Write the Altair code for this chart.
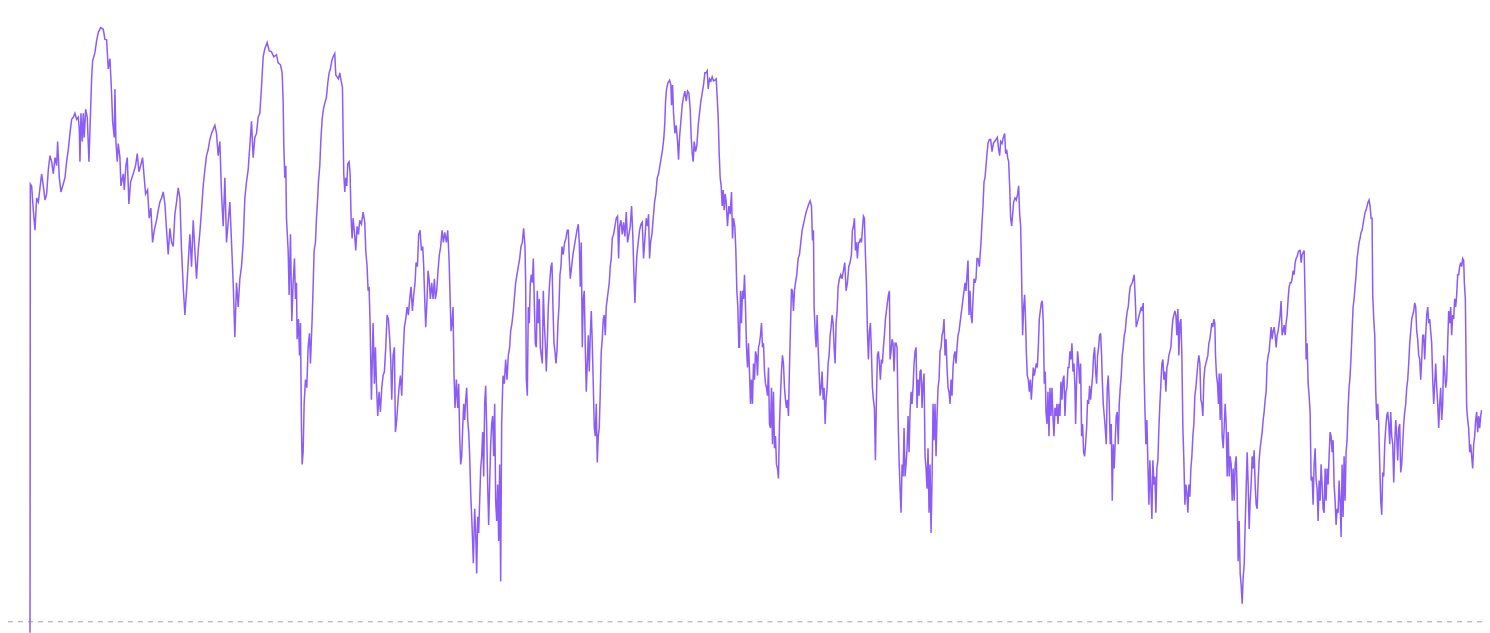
import altair as alt
import pandas as pd

# ---- series (t = tick index, v = value; 0 = dashed reference) ----
seg1_t = [0, 1, 5, 10, 15, 20, 25, 30, 35, 40, 45, 50, 55, 60, 65, 70, 75, 80, 83, 88, 93, 100, 105, 110, 115, 120, 125, 130, 135, 140, 145, 148, 150, 153, 157, 160, 163, 167, 172, 177, 182, 185, 188, 195, 200, 205, 212, 220, 225, 230, 235, 240, 245, 248, 253, 255, 258, 262, 265, 270, 273, 280, 283, 288, 292, 297, 302, 310, 317, 322, 327, 332, 338, 343, 347, 353, 358, 363, 368, 373, 380, 385, 390, 395, 400, 405, 410, 415, 420, 425, 430, 435, 440, 445, 450, 455, 460, 465, 470, 475, 480, 485, 490, 495, 500, 505, 510, 515, 520, 525, 530, 535, 540, 545, 550, 555, 560, 565, 570, 575, 580, 585, 590, 595, 600, 605, 610, 615, 620, 625, 630, 635, 640, 645, 650, 655, 660, 665, 670, 675, 680, 685]
seg1_v = [-120, 1085, 1080, 1020, 970, 1050, 1040, 1075, 1110, 1080, 1045, 1060, 1120, 1155, 1140, 1110, 1150, 1130, 1190, 1100, 1065, 1085, 1100, 1140, 1170, 1210, 1245, 1250, 1260, 1245, 1250, 1220, 1140, 1260, 1190, 1260, 1200, 1270, 1250, 1140, 1270, 1345, 1390, 1410, 1440, 1460, 1472, 1468, 1443, 1442, 1370, 1395, 1310, 1240, 1200, 1320, 1190, 1140, 1185, 1150, 1080, 1110, 1070, 1130, 1150, 1035, 1090, 1110, 1130, 1160, 1115, 1130, 1150, 1100, 1060, 1070, 1000, 1025, 940, 970, 995, 1020, 1040, 1050, 1065, 1035, 970, 910, 975, 940, 930, 1010, 1040, 1075, 1050, 920, 830, 760, 820, 890, 960, 880, 995, 920, 850, 920, 965, 1020, 1080, 1120, 1155, 1170, 1195, 1210, 1220, 1230, 1210, 1155, 1190, 1060, 980, 1100, 940, 990, 1040, 940, 840, 705, 840, 780, 850, 880, 940, 1050, 1090, 1120, 1180, 1240, 1150, 1200, 1210, 1250]

seg2_t = [690, 695, 700, 705, 712, 718, 725, 732, 740, 745, 752, 757, 760, 762, 765, 768, 770, 775, 778, 782, 786, 790, 794, 797, 800, 802, 806, 809, 812, 815, 817, 820, 823, 827, 831, 835, 839, 842, 847, 850, 853, 857, 860, 863, 866, 870, 873, 877, 881, 885, 890, 894, 898, 902, 906, 910, 915, 918, 922, 926, 930, 934, 938, 940, 942, 945, 948, 951, 954, 958, 961, 964, 967, 970, 974, 978, 982, 986, 990, 995, 1000, 1005, 1008, 1012, 1015, 1018, 1021, 1025, 1030, 1034, 1037, 1040, 1044, 1048, 1052, 1056, 1060, 1064, 1068, 1072, 1076, 1080, 1083, 1086, 1090, 1094, 1097, 1101, 1105, 1108, 1112, 1116, 1120, 1124, 1128, 1132, 1136, 1140, 1144, 1148, 1152, 1156, 1159, 1163, 1167, 1171, 1175, 1179, 1182, 1185, 1188, 1192, 1195, 1198, 1202, 1206, 1210, 1214, 1217, 1221, 1225, 1229, 1233, 1237, 1241, 1245, 1250, 1254, 1258, 1261, 1264, 1267, 1270, 1273, 1276, 1280, 1284, 1287, 1290, 1293, 1296, 1299, 1302, 1305, 1308, 1311, 1314, 1317, 1320, 1323, 1327, 1331, 1335, 1338, 1341, 1344, 1347, 1350, 1353, 1356, 1359, 1362, 1365, 1368, 1371, 1374, 1377, 1380, 1383, 1386, 1389, 1392, 1395, 1398, 1401, 1404, 1407]
seg2_v = [1260, 1325, 1400, 1420, 1435, 1415, 1412, 1400, 1405, 1385, 1380, 1360, 1290, 1180, 1100, 1130, 1000, 920, 810, 960, 745, 840, 900, 800, 840, 700, 750, 660, 740, 480, 390, 420, 540, 600, 580, 680, 715, 640, 750, 830, 920, 940, 1000, 1040, 1090, 1130, 1190, 1245, 1270, 1285, 1300, 1335, 1360, 1370, 1390, 1400, 1408, 1355, 1350, 1345, 1360, 1340, 1325, 1210, 1110, 1065, 1100, 1080, 1135, 1140, 1110, 1000, 950, 1000, 965, 920, 980, 960, 995, 985, 1015, 990, 920, 880, 820, 830, 740, 550, 740, 590, 680, 590, 510, 570, 520, 580, 610, 620, 680, 760, 750, 700, 650, 550, 660, 680, 470, 500, 550, 580, 610, 560, 660, 730, 750, 780, 760, 800, 830, 770, 810, 840, 890, 880, 960, 970, 920, 930, 880, 800, 730, 800, 870, 850, 800, 840, 800, 850, 800, 820, 870, 910, 930, 970, 940, 965, 940, 970, 900, 810, 720, 740, 780, 610, 530, 600, 530, 590, 460, 390, 410, 480, 540, 500, 550, 580, 500, 470, 410, 320, 240, 145, 280, 220, 120, 260, 220, 300, 380, 410, 470, 360, 540, 585, 480, 340, 240, 340, 440, 490, 510, 410, 540, 300, 250, 340, 200]

seg3_t = [1410, 1413, 1416, 1420, 1424, 1428, 1432, 1436, 1440, 1443, 1447, 1451, 1455, 1458, 1462, 1466, 1470, 1474, 1478, 1482, 1486, 1488, 1490, 1493, 1496, 1499, 1502, 1505, 1508, 1511, 1514, 1517, 1520, 1523, 1526, 1529, 1532, 1535, 1538, 1541, 1544, 1547, 1550, 1553, 1556, 1560, 1564, 1567, 1570, 1573, 1576, 1579, 1582, 1585, 1588, 1591, 1594, 1597, 1601, 1605, 1609, 1613, 1616, 1619, 1622, 1626, 1630, 1634, 1638, 1642, 1646, 1649, 1652, 1655, 1658, 1661, 1664, 1667, 1670, 1673, 1676, 1679, 1682, 1685, 1688, 1691, 1694, 1697, 1700, 1703, 1706, 1709, 1712, 1715, 1718, 1721, 1724, 1727, 1730, 1733, 1736, 1739, 1742, 1745, 1748, 1752, 1756, 1760, 1764, 1767, 1770, 1774, 1778, 1782, 1786, 1790, 1794, 1798, 1802, 1806, 1810, 1813, 1816, 1819, 1822, 1826, 1830, 1834, 1838, 1842, 1846, 1850, 1854, 1857, 1860, 1863, 1867, 1871, 1875, 1879, 1883, 1887, 1891, 1895, 1899, 1903, 1906, 1908, 1911, 1915, 1920, 1924, 1926, 1929, 1932, 1936, 1940, 1944, 1947, 1950, 1954, 1958, 1962, 1966, 1970, 1974, 1978, 1982, 1985, 1988, 1991, 1994, 1998, 2002, 2006, 2010, 2014, 2018, 2022, 2026, 2030, 2033, 2036, 2040, 2044, 2048, 2052, 2056, 2060, 2063, 2066, 2069, 2072, 2075, 2078, 2081, 2084, 2087, 2090, 2094, 2098, 2102, 2106, 2109, 2112, 2116, 2119, 2122, 2125, 2128]
seg3_v = [390, 100, 490, 610, 590, 650, 600, 660, 680, 720, 740, 770, 810, 840, 860, 880, 900, 930, 940, 975, 930, 840, 600, 560, 780, 740, 840, 860, 840, 900, 790, 690, 680, 820, 740, 800, 680, 660, 640, 820, 740, 690, 620, 690, 780, 840, 880, 890, 780, 690, 670, 640, 670, 740, 780, 860, 880, 930, 910, 940, 950, 970, 970, 900, 850, 880, 910, 930, 950, 970, 985, 940, 830, 940, 680, 800, 820, 680, 570, 640, 710, 620, 710, 770, 690, 590, 480, 460, 540, 395, 460, 480, 570, 670, 700, 750, 760, 710, 780, 800, 820, 840, 880, 900, 950, 960, 980, 1000, 1005, 900, 980, 995, 960, 990, 955, 1015, 940, 960, 980, 1030, 950, 860, 790, 860, 910, 940, 970, 985, 990, 900, 950, 1000, 980, 1010, 900, 940, 960, 1000, 1040, 1060, 1100, 1110, 1130, 1150, 1170, 1200, 1240, 1290, 1320, 1335, 1342, 1330, 1280, 1330, 1260, 1210, 1230, 1190, 1145, 1200, 1240, 1280, 1300, 1315, 1290, 1315, 1310, 1270, 1200, 1160, 1140, 1190, 1165, 1180, 1230, 1260, 1290, 1310, 1330, 1360, 1360, 1365, 1320, 1345, 1340, 1350, 1340, 1342, 1345, 1300, 1250, 1160, 1100, 1080, 1030, 1070, 1020, 1060, 1040, 980, 1030, 1010, 1065, 950, 1000, 980, 920, 820, 780, 680]

seg4_t = [2130, 2133, 2136, 2139, 2142, 2145, 2148, 2151, 2154, 2157, 2160, 2163, 2166, 2169, 2172, 2175, 2178, 2181, 2184, 2187, 2190, 2193, 2196, 2199, 2202, 2205, 2208, 2211, 2214, 2217, 2220, 2223, 2226, 2229, 2232, 2235, 2238, 2241, 2244, 2247, 2250, 2253, 2256, 2259, 2262, 2265, 2268, 2271, 2274, 2277, 2280, 2283, 2286, 2289, 2292, 2295, 2298, 2302, 2306, 2310, 2314, 2318, 2322, 2326, 2330, 2334, 2338, 2342, 2346, 2349, 2352, 2354, 2357, 2360, 2363, 2366, 2369, 2372, 2375, 2378, 2381, 2384, 2387, 2390, 2393, 2396, 2399, 2402, 2405, 2408, 2411, 2414, 2417, 2420, 2423, 2426, 2430, 2434, 2438, 2442, 2446, 2450, 2454, 2458, 2462, 2466, 2469, 2472, 2475, 2478, 2481, 2484, 2487, 2490, 2493, 2496, 2499, 2502, 2505, 2508, 2511, 2514, 2517, 2520, 2523, 2526, 2529, 2532, 2535, 2538, 2541, 2544, 2547, 2550, 2553, 2556, 2559, 2562, 2565, 2568, 2571, 2574, 2577, 2580, 2582, 2585, 2588, 2591, 2594, 2597, 2600, 2603, 2606, 2609, 2612, 2615, 2618, 2621, 2624, 2627, 2630, 2633, 2636, 2639, 2642, 2645, 2648, 2651, 2654, 2657, 2660, 2663, 2666, 2669, 2672, 2675, 2678, 2681, 2684, 2687, 2690, 2693, 2696, 2699, 2702, 2705, 2708, 2711, 2714, 2717, 2720, 2723, 2726, 2729, 2732, 2735, 2738, 2741, 2744, 2747, 2750, 2753, 2756, 2759, 2762, 2765, 2768, 2771, 2774, 2777, 2780, 2783, 2786, 2789, 2792, 2795, 2798, 2801, 2804, 2807, 2810, 2813, 2816, 2819, 2822, 2825, 2828, 2831, 2834, 2837, 2840, 2843, 2846]
seg4_v = [680, 820, 740, 820, 800, 860, 780, 680, 630, 690, 620, 540, 600, 540, 640, 600, 670, 660, 610, 680, 690, 710, 740, 680, 690, 620, 590, 580, 560, 630, 490, 480, 580, 440, 570, 430, 460, 390, 380, 355, 490, 560, 620, 660, 640, 580, 550, 530, 550, 510, 630, 730, 825, 820, 770, 820, 840, 860, 900, 910, 940, 970, 985, 1000, 1015, 1025, 1035, 1043, 1030, 945, 970, 780, 720, 680, 760, 680, 620, 560, 580, 620, 550, 580, 490, 550, 580, 640, 660, 710, 730, 760, 740, 680, 640, 740, 770, 830, 850, 860, 850, 870, 890, 820, 840, 880, 890, 910, 970, 980, 1000, 920, 940, 900, 940, 940, 950, 940, 970, 1005, 1000, 910, 840, 720, 650, 720, 740, 670, 580, 550, 530, 400, 550, 660, 670, 640, 600, 650, 640, 680, 710, 750, 770, 790, 810, 820, 650, 670, 700, 690, 620, 690, 690, 680, 510, 400, 330, 270, 390, 360, 480, 360, 390, 430, 510, 420, 520, 570, 540, 580, 640, 670, 680, 530, 600, 560, 620, 625, 530, 590, 615, 410, 380, 330, 430, 270, 390, 220, 350, 540, 450, 540, 410, 510, 580, 600, 670, 680, 710, 720, 750, 660, 700, 630, 580, 570, 540, 600, 560, 630, 660, 670, 640, 680, 710, 720, 740, 760, 780, 800, 820, 840, 820, 860, 895, 760, 820, 760, 740, 800, 850, 840, 850, 900, 900]

seg5_t = [2850, 2855, 2858, 2861, 2864, 2867, 2870, 2873, 2876, 2880, 2884, 2888, 2892, 2896, 2900, 2904, 2908, 2911, 2914, 2918, 2922, 2926, 2929, 2932, 2935, 2938, 2941, 2944, 2947, 2950, 2953, 2957, 2961, 2965, 2968, 2971, 2974, 2976, 2978, 2980, 2983, 2986, 2989, 2991, 2994, 2997, 3000, 3003, 3006, 3009, 3012, 3015, 3018, 3021, 3024, 3027, 3030, 3033, 3036, 3039, 3042, 3045, 3048, 3050, 3053, 3056, 3059, 3062, 3065, 3068, 3071, 3074, 3077, 3080, 3083, 3086, 3089, 3092, 3095, 3098, 3101, 3104, 3107, 3110, 3113, 3116, 3119, 3122, 3125, 3128, 3131, 3134, 3137, 3139, 3142, 3145, 3148, 3151, 3154, 3157, 3160, 3163, 3166, 3169, 3172, 3175, 3178, 3181, 3184, 3187, 3190, 3193, 3196, 3199, 3202, 3205, 3208, 3211, 3214, 3217, 3219, 3222, 3225, 3228, 3231, 3234, 3237, 3240, 3243, 3246, 3249, 3252, 3255, 3258, 3261, 3264, 3267, 3270, 3273, 3276, 3279, 3282, 3285, 3288, 3291, 3294, 3297, 3300, 3303, 3306, 3309, 3312, 3315, 3317, 3319, 3321, 3324, 3327, 3330, 3333, 3336, 3339, 3342, 3344, 3347, 3350, 3353, 3356, 3359, 3362, 3365, 3368, 3371, 3374, 3377, 3380, 3383, 3386, 3389, 3392, 3395, 3398, 3401, 3404, 3407, 3410, 3413, 3416, 3419, 3422, 3425, 3428, 3431, 3434, 3437, 3440, 3443, 3446, 3449, 3452, 3455, 3458, 3461, 3464, 3467, 3470, 3473, 3476, 3479, 3482, 3485, 3488, 3491, 3494, 3497, 3500, 3503, 3506, 3509, 3512, 3515, 3518, 3521, 3524, 3527, 3530, 3533, 3536, 3539, 3542, 3545, 3548, 3551, 3554, 3557, 3559, 3562, 3565, 3568]
seg5_v = [880, 940, 990, 1030, 1090, 1100, 1130, 1160, 1185, 1195, 1195, 1165, 1185, 1190, 1195, 1200, 1170, 1155, 1190, 1185, 1200, 1210, 1160, 1170, 1150, 1140, 1080, 1000, 980, 1010, 1040, 1050, 1045, 1060, 1080, 1010, 980, 900, 800, 710, 780, 810, 740, 670, 610, 600, 570, 600, 550, 590, 630, 610, 625, 640, 630, 680, 750, 770, 790, 795, 740, 590, 620, 520, 490, 570, 460, 580, 510, 580, 510, 460, 530, 510, 540, 490, 540, 510, 595, 550, 600, 610, 510, 570, 580, 630, 630, 670, 650, 690, 620, 640, 580, 490, 600, 670, 640, 590, 640, 460, 490, 420, 410, 440, 480, 550, 540, 585, 550, 580, 610, 660, 680, 620, 590, 660, 680, 710, 715, 660, 600, 540, 510, 480, 440, 580, 610, 540, 440, 490, 300, 440, 380, 450, 510, 520, 440, 540, 580, 610, 660, 680, 710, 720, 750, 770, 780, 810, 830, 835, 840, 850, 860, 820, 780, 730, 740, 750, 760, 770, 780, 770, 790, 640, 530, 440, 500, 390, 290, 400, 330, 255, 400, 340, 360, 270, 380, 400, 480, 540, 590, 640, 650, 600, 620, 570, 630, 640, 660, 670, 680, 720, 750, 760, 770, 760, 710, 775, 660, 740, 750, 660, 480, 400, 290, 340, 320, 270, 340, 310, 380, 410, 460, 490, 560, 580, 610, 640, 660, 640, 550, 540, 510, 600, 630, 640, 650, 660, 690, 700, 720, 740, 730, 750, 740, 660, 610, 590, 540]

seg6_t = [3570, 3573, 3576, 3579, 3582, 3585, 3588, 3591, 3594, 3597, 3600, 3603, 3606, 3609, 3612, 3615, 3618, 3621, 3624, 3627, 3630, 3633, 3636, 3639, 3642, 3645, 3648, 3651, 3654, 3657, 3660, 3663, 3666, 3669, 3672, 3675, 3678, 3681, 3684, 3687, 3690, 3693, 3696, 3699, 3702, 3705, 3708, 3711, 3714, 3717, 3720, 3723, 3726, 3729, 3732, 3735, 3738, 3741, 3744, 3747, 3750, 3753, 3756, 3759, 3762, 3765, 3768, 3771, 3774, 3777, 3780, 3783, 3786, 3789, 3792, 3795, 3798, 3801, 3804, 3807, 3810, 3813, 3816, 3819, 3822, 3825, 3827, 3829, 3831, 3834, 3837, 3840, 3843, 3846, 3849, 3852, 3855, 3858, 3861, 3864, 3867, 3870, 3873, 3876, 3879, 3882, 3885, 3888, 3891, 3894, 3897, 3900, 3903, 3906, 3909, 3912, 3915, 3918, 3921, 3924, 3927, 3930, 3933, 3936, 3939, 3942, 3945, 3948, 3951, 3954, 3957, 3960, 3963, 3966, 3969, 3972, 3975, 3978, 3981, 3984, 3987, 3990, 3993, 3996, 3999, 4002, 4005, 4008, 4011, 4014, 4017, 4020, 4023, 4026, 4029, 4031, 4034, 4037, 4040, 4043, 4046, 4049, 4052, 4055, 4058, 4061, 4064, 4067, 4070, 4073, 4076, 4079, 4082, 4085, 4088, 4091, 4094, 4097, 4100, 4103, 4106, 4109, 4112, 4115, 4118, 4121, 4124, 4127, 4130, 4133, 4136, 4139, 4142, 4145, 4148, 4151, 4154, 4157, 4160, 4163, 4166, 4169, 4172, 4175, 4178, 4181, 4184, 4187, 4190, 4193, 4196, 4199, 4202, 4205, 4208, 4211, 4214, 4217, 4220, 4223, 4226, 4229, 4232, 4235, 4238, 4241, 4244, 4247, 4250, 4253, 4256, 4259, 4262, 4265, 4268, 4271, 4274, 4277, 4280, 4283, 4286, 4289, 4292, 4295, 4298, 4301, 4304, 4306, 4309, 4311, 4313, 4316, 4319, 4322, 4325, 4328, 4331, 4334, 4337, 4340, 4343, 4346, 4349, 4352, 4355, 4358]
seg6_v = [615, 500, 615, 460, 430, 480, 540, 490, 360, 470, 360, 410, 390, 300, 380, 300, 390, 410, 320, 150, 250, 120, 90, 45, 110, 140, 240, 330, 420, 340, 230, 300, 340, 410, 380, 425, 340, 290, 280, 350, 400, 430, 450, 470, 500, 520, 550, 570, 640, 660, 670, 700, 730, 700, 720, 730, 710, 680, 710, 720, 740, 760, 795, 710, 720, 735, 710, 740, 760, 800, 830, 840, 840, 850, 870, 860, 890, 900, 905, 915, 920, 920, 890, 910, 915, 920, 840, 760, 650, 690, 590, 560, 520, 350, 360, 290, 390, 430, 350, 330, 250, 350, 300, 390, 340, 280, 270, 380, 300, 380, 340, 410, 470, 460, 420, 450, 340, 300, 240, 280, 270, 350, 300, 210, 390, 260, 410, 300, 420, 450, 530, 580, 610, 660, 720, 780, 800, 830, 860, 900, 920, 940, 950, 965, 970, 985, 1000, 1015, 1020, 1030, 1040, 1045, 1030, 1000, 1000, 810, 750, 710, 570, 500, 540, 490, 390, 300, 265, 370, 360, 440, 480, 510, 520, 490, 440, 520, 460, 440, 345, 440, 500, 460, 400, 480, 490, 370, 390, 440, 490, 520, 540, 580, 600, 640, 690, 720, 750, 760, 770, 790, 780, 720, 700, 660, 650, 600, 650, 710, 710, 650, 710, 760, 780, 740, 750, 720, 690, 600, 540, 590, 640, 580, 540, 480, 540, 580, 500, 540, 660, 620, 580, 600, 690, 770, 740, 780, 710, 760, 750, 800, 780, 810, 860, 860, 880, 890, 880, 900, 895, 840, 800, 660, 530, 500, 480, 420, 440, 410, 380, 440, 460, 500, 520, 470, 510, 480, 510, 525]

reference_value = [0]

t_all = seg1_t + seg2_t + seg3_t + seg4_t + seg5_t + seg6_t
v_all = seg1_v + seg2_v + seg3_v + seg4_v + seg5_v + seg6_v
series = pd.DataFrame({"t": t_all, "v": v_all})
ref = pd.DataFrame({"v": reference_value})

x_scale = alt.Scale(domain=[-66, 4359], nice=False, zero=False)
y_scale = alt.Scale(domain=[-27.2, 1520.2], nice=False, zero=False)

line = alt.Chart(series).mark_line(
    color="#8b5cf6", strokeWidth=1.5, clip=True, interpolate="linear"
).encode(
    x=alt.X("t:Q", scale=x_scale, axis=None),
    y=alt.Y("v:Q", scale=y_scale, axis=None),
    order="t:Q",
)

rule = alt.Chart(ref).mark_rule(
    color="#a3a3a3", strokeWidth=1, strokeDash=[5, 5]
).encode(
    y=alt.Y("v:Q", scale=y_scale, axis=None),
)

chart = alt.layer(rule, line).properties(
    width=1475,
    height=625,
    padding=0,
    autosize=alt.AutoSizeParams(type="none"),
    background="white",
).configure_view(stroke=None)

chart.save("out.html", embed_options={"renderer": "svg", "actions": False})
